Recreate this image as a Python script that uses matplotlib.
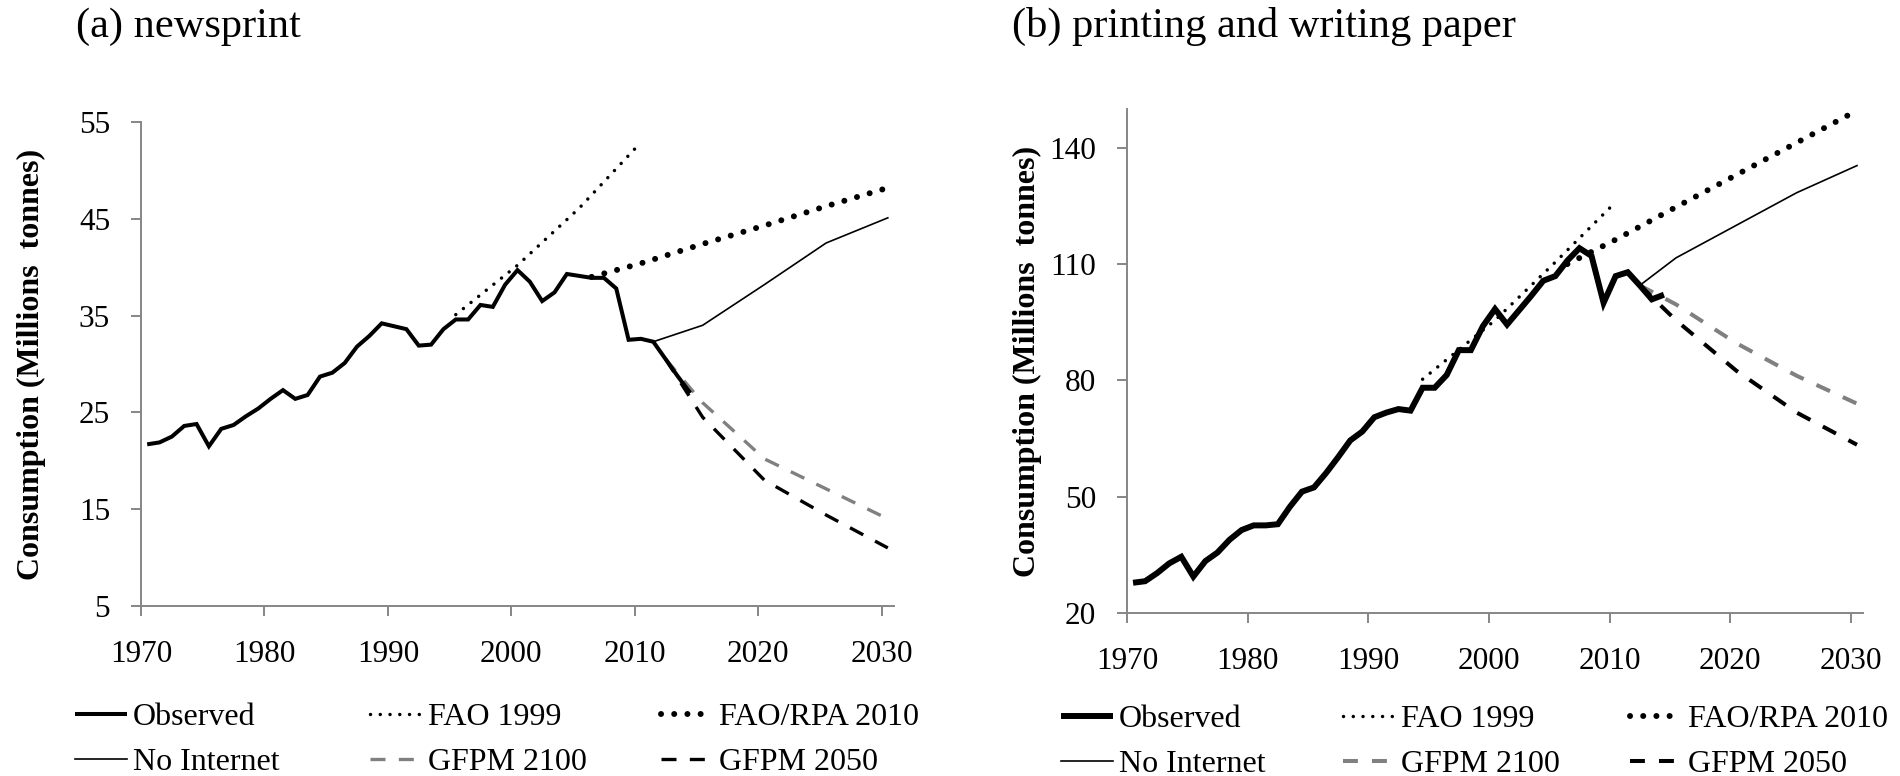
import matplotlib
matplotlib.use("Agg")
import matplotlib.pyplot as plt
from matplotlib.lines import Line2D
import numpy as np

plt.rcParams['font.family'] = ['Liberation Serif', 'DejaVu Serif']

# ---------------- data ----------------
obs_years = list(range(1970, 2015))

news_observed = [21.7, 21.9, 22.5, 23.6, 23.8, 21.5, 23.3, 23.7, 24.6, 25.4,
                 26.4, 27.3, 26.4, 26.8, 28.7, 29.1, 30.1, 31.8, 32.9, 34.2,
                 33.9, 33.6, 31.9, 32.0, 33.6, 34.6, 34.6, 36.1, 35.9, 38.2,
                 39.7, 38.5, 36.5, 37.4, 39.3, 39.1, 38.9, 38.9, 37.8, 32.5,
                 32.6, 32.3, 30.5, 28.7, 27.0]
news_fao1999_years = [1995, 2000, 2005, 2010]
news_fao1999 = [35.1, 40.2, 46.1, 52.9]
news_rpa_years = [2006, 2010, 2015, 2020, 2025, 2030]
news_rpa = [39.0, 40.4, 42.4, 44.3, 46.3, 48.2]
news_noint_years = [2011, 2015, 2020, 2025, 2030]
news_noint = [32.3, 34.0, 38.2, 42.5, 45.1]
news_gfpm_years = [2012, 2015, 2020, 2025, 2030]
news_gfpm2100 = [30.5, 26.0, 20.2, 17.1, 14.0]
news_gfpm2050 = [30.5, 24.5, 18.0, 14.4, 11.0]

pw_observed = [27.8, 28.2, 30.3, 32.8, 34.5, 29.4, 33.4, 35.6, 38.9, 41.4,
               42.6, 42.6, 42.9, 47.4, 51.3, 52.4, 56.1, 60.2, 64.5, 66.8,
               70.5, 71.7, 72.6, 72.2, 78.1, 78.1, 81.4, 87.8, 87.8, 94.0,
               98.4, 94.4, 98.1, 101.8, 105.7, 106.9, 110.9, 114.1, 112.1, 100.0,
               106.9, 107.9, 104.5, 100.9, 102.1]
pw_fao1999_years = [1994, 2000, 2005, 2010]
pw_fao1999 = [80.3, 95.5, 110.5, 126.0]
pw_rpa_years = [2006, 2010, 2015, 2020, 2025, 2030]
pw_rpa = [110.0, 116.3, 124.7, 133.0, 141.3, 149.6]
pw_noint_years = [2012, 2015, 2020, 2025, 2030]
pw_noint = [104.5, 111.6, 120.0, 128.4, 135.4]
pw_gfpm_years = [2012, 2015, 2020, 2025, 2030]
pw_gfpm2100 = [104.5, 99.6, 89.6, 81.2, 74.0]
pw_gfpm2050 = [104.5, 95.5, 82.5, 71.7, 63.4]

tick_years = [1970, 1980, 1990, 2000, 2010, 2020, 2030]
news_yticks = [5, 15, 25, 35, 45, 55]
pw_yticks = [20, 50, 80, 110, 140]

titles = ["(a) newsprint", "(b) printing and writing paper"]
ylabel = "Consumption (Millions  tonnes)"
labels = ["Observed", "FAO 1999", "FAO/RPA 2010", "No Internet", "GFPM 2100", "GFPM 2050"]

# ---------------- figure ----------------
W, H = 1900, 776
fig = plt.figure(figsize=(W / 100, H / 100), dpi=100)

def fx(px):
    return px / W

def fy(py):
    return 1 - py / H

SPINE = '#868686'
GREY = '#808080'

panels = [
    dict(rect=[fx(141), fy(606), fx(894 - 141), (606 - 122) / H], ylim=(5, 55), yticks=news_yticks,
         obs=news_observed, fao=(news_fao1999_years, news_fao1999), rpa=(news_rpa_years, news_rpa),
         noint=(news_noint_years, news_noint), g2100=(news_gfpm_years, news_gfpm2100),
         g2050=(news_gfpm_years, news_gfpm2050), obs_lw=2.9, gf_lw=2.4, gf_dash=(4.5, 4.0),
         title_x=76, ylabel_x=31, leg_x=[75, 370, 661], leg_y=740),
    dict(rect=[fx(1127), fy(613), fx(1863 - 1127), (613 - 109) / H], ylim=(20, 150), yticks=pw_yticks,
         obs=pw_observed, fao=(pw_fao1999_years, pw_fao1999), rpa=(pw_rpa_years, pw_rpa),
         noint=(pw_noint_years, pw_noint), g2100=(pw_gfpm_years, pw_gfpm2100),
         g2050=(pw_gfpm_years, pw_gfpm2050), obs_lw=4.3, gf_lw=2.9, gf_dash=(3.7, 3.5),
         title_x=1012, ylabel_x=1027, leg_x=[1061, 1343, 1630], leg_y=742),
]

for i, p in enumerate(panels):
    ax = fig.add_axes(p['rect'])
    fao_style = dict(color='black', lw=2.5, linestyle=(0, (0.01, 2.8)), dash_capstyle='round')
    rpa_style = dict(color='black', lw=4.3, linestyle=(0, (0.01, 2.2)), dash_capstyle='round')
    noint_style = dict(color='black', lw=1.2, solid_joinstyle='miter')
    g2100_style = dict(color=GREY, lw=p['gf_lw'], linestyle=(0, p['gf_dash']), dash_capstyle='butt')
    g2050_style = dict(color='black', lw=p['gf_lw'], linestyle=(0, p['gf_dash']), dash_capstyle='butt')
    obs_style = dict(color='black', lw=p['obs_lw'], solid_joinstyle='miter', solid_capstyle='butt')

    ax.plot(*p['noint'], **noint_style, zorder=3)
    ax.plot(*p['g2100'], **g2100_style, zorder=3)
    ax.plot(*p['g2050'], **g2050_style, zorder=3)
    ax.plot(*p['fao'], **fao_style, zorder=3)
    ax.plot(*p['rpa'], **rpa_style, zorder=3)
    ax.plot(obs_years, p['obs'], **obs_style, zorder=4)

    ax.set_xlim(1969.5, 2030.5)
    ax.set_ylim(*p['ylim'])
    ax.set_xticks([y - 0.5 for y in tick_years])
    ax.set_xticklabels([str(y) for y in tick_years])
    ax.set_yticks(p['yticks'])
    ax.set_yticklabels([str(v) for v in p['yticks']])
    for s in ['top', 'right']:
        ax.spines[s].set_visible(False)
    for s in ['left', 'bottom']:
        ax.spines[s].set_color(SPINE)
        ax.spines[s].set_linewidth(1.4)
    ax.tick_params(axis='both', direction='out', length=7.2, width=1.4, color=SPINE,
                   labelsize=22.5, labelcolor='black')
    ax.tick_params(axis='y', pad=15)
    ax.tick_params(axis='x', pad=17)
    ax.patch.set_visible(False)

    # titles and y labels
    fig.text(fx(p['title_x']), fy(37), titles[i], fontsize=30.5, ha='left', va='baseline')
    cy = p['rect'][1] + p['rect'][3] / 2
    fig.text(fx(p['ylabel_x']), cy, ylabel, fontsize=23, fontweight='bold', rotation=90,
             ha='center', va='center')

    # legend: three columns of two entries each
    handles = [
        Line2D([], [], **obs_style), Line2D([], [], **noint_style),
        Line2D([], [], **fao_style), Line2D([], [], **g2100_style),
        Line2D([], [], **rpa_style), Line2D([], [], **g2050_style),
    ]
    col_labels = [labels[0], labels[3], labels[1], labels[4], labels[2], labels[5]]
    for c in range(3):
        fig.legend(handles[2 * c:2 * c + 2], col_labels[2 * c:2 * c + 2],
                   loc='center left', bbox_to_anchor=(fx(p['leg_x'][c]), fy(p['leg_y'])),
                   frameon=False, fontsize=23, handlelength=1.62, handletextpad=0.2,
                   borderpad=0, borderaxespad=0, labelspacing=0.5)

fig.savefig('out.png', dpi=100)
